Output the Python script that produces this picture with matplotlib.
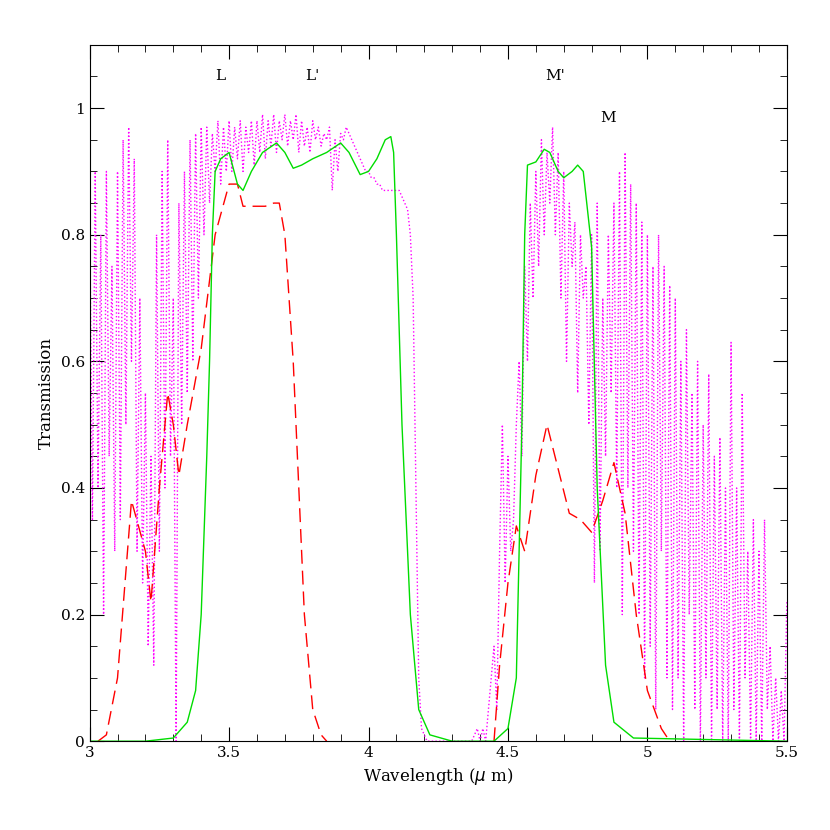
import numpy as np
import matplotlib.pyplot as plt
from matplotlib.ticker import MultipleLocator

# filter curve (green)
filt_x = [3.0, 3.2, 3.3, 3.35, 3.38, 3.4, 3.42, 3.43, 3.44, 3.45, 3.47, 3.5, 3.53, 3.55, 3.58, 3.62,
          3.67, 3.7, 3.73, 3.76, 3.8, 3.85, 3.9, 3.93, 3.97, 4.0, 4.03, 4.06, 4.08, 4.09, 4.1,
          4.12, 4.15, 4.18, 4.22, 4.3, 4.45, 4.5, 4.53, 4.55, 4.56, 4.57, 4.6, 4.63, 4.65,
          4.68, 4.7, 4.73, 4.75, 4.77, 4.8, 4.82, 4.85, 4.88, 4.95, 5.5]
filt_y = [0.0, 0.0, 0.005, 0.03, 0.08, 0.2, 0.45, 0.6, 0.8, 0.9, 0.92, 0.93, 0.88, 0.87, 0.9, 0.93,
          0.945, 0.93, 0.905, 0.91, 0.92, 0.93, 0.945, 0.93, 0.895, 0.9, 0.92, 0.95, 0.955, 0.93, 0.8,
          0.5, 0.2, 0.05, 0.01, 0.0, 0.0, 0.02, 0.1, 0.5, 0.8, 0.91, 0.915, 0.935, 0.93,
          0.9, 0.89, 0.9, 0.91, 0.9, 0.78, 0.4, 0.12, 0.03, 0.005, 0.0]

# red dashed curve
red_x = [3.03, 3.06, 3.1, 3.15, 3.2, 3.22, 3.25, 3.28, 3.3, 3.32, 3.35, 3.4, 3.45, 3.5, 3.53, 3.55,
         3.63, 3.66, 3.68, 3.7, 3.73, 3.77, 3.8, 3.83, 3.85, np.nan,
         4.45, 4.47, 4.5, 4.53, 4.56, 4.6, 4.64, 4.68, 4.72, 4.76, 4.8, 4.84, 4.88, 4.92, 4.96,
         5.0, 5.05, 5.08]
red_y = [0.0, 0.01, 0.1, 0.38, 0.3, 0.22, 0.4, 0.55, 0.5, 0.42, 0.5, 0.62, 0.8, 0.88, 0.88, 0.845,
         0.845, 0.85, 0.85, 0.8, 0.6, 0.2, 0.05, 0.01, 0.0, np.nan,
         0.0, 0.12, 0.25, 0.34, 0.3, 0.42, 0.5, 0.43, 0.36, 0.35, 0.33, 0.38, 0.44, 0.36, 0.2,
         0.08, 0.02, 0.0]

# atmospheric transmission (magenta dotted), sampled every 0.01 um from 3.00 to 5.50
atm_y = [.85, .35, .9, .4, .8, .2, .9, .45, .75, .3,
         .9, .35, .95, .5, .97, .6, .92, .3, .7, .25,
         .55, .15, .45, .12, .8, .3, .9, .4, .95, .45,
         .7, .0, .85, .5, .9, .55, .95, .6, .96, .7,
         .97, .8, .97, .85, .96, .9, .98, .88, .97, .9,
         .98, .9, .97, .92, .98, .9, .97, .93, .98, .91,
         .98, .93, .99, .92, .98, .94, .99, .93, .98, .95,
         .99, .94, .98, .95, .99, .93, .98, .94, .97, .93,
         .98, .95, .97, .94, .96, .95, .97, .87, .95, .9,
         .96, .95, .97, .96, .95, .94, .93, .92, .91, .9,
         .9, .89, .89, .88, .88, .87, .87, .87, .87, .87,
         .87, .87, .86, .85, .84, .8, .7, .4, .1, .02,
         .01, 0, 0, 0, 0, 0, 0, 0, 0, 0,
         0, 0, 0, 0, 0, 0, 0, 0, .01, .02,
         0, .02, 0, .05, .1, .15, .05, .3, .5, .25,
         .45, .3, .35, .5, .6, .45, .75, .6, .85, .7,
         .9, .75, .95, .8, .93, .85, .97, .8, .93, .7,
         .9, .6, .85, .75, .82, .55, .8, .7, .75, .5,
         .8, .25, .85, .3, .7, .45, .8, .55, .85, .4,
         .9, .2, .93, .4, .88, .3, .85, .2, .82, .1,
         .8, .15, .75, .05, .8, .3, .75, .1, .72, .05,
         .7, .1, .6, 0, .65, .2, .55, .05, .6, 0,
         .5, .1, .58, 0, .45, .05, .48, 0, .4, 0,
         .63, .05, .4, 0, .55, .1, .3, 0, .35, 0,
         .3, 0, .35, .05, .15, 0, .1, 0, .08, 0,
         .22]
atm_x = np.round(np.arange(len(atm_y)) * 0.01 + 3.0, 2)

band_names = ["L", "L'", "M'", "M"]
band_pos = [(3.47, 1.05), (3.8, 1.05), (4.67, 1.05), (4.86, 0.985)]

plt.rcParams['font.family'] = 'DejaVu Serif'
fig = plt.figure(figsize=(8.3, 8.3), dpi=100)
ax = fig.add_axes([0.108, 0.107, 0.84, 0.839])

ax.plot(atm_x, atm_y, color='magenta', ls=':', lw=1)
ax.plot(red_x, red_y, color='red', ls=(0, (10, 5)), lw=1)
ax.plot(filt_x, filt_y, color='#00dd00', lw=1)

for name, (x, y) in zip(band_names, band_pos):
    ax.text(x, y, name, ha='center', va='center', fontsize=11)

ax.set_xlim(3, 5.5)
ax.set_ylim(0, 1.1)
ax.xaxis.set_minor_locator(MultipleLocator(0.1))
ax.yaxis.set_minor_locator(MultipleLocator(0.05))
ax.tick_params(which='both', direction='in', top=True, right=True, labelsize=11)
ax.tick_params(which='major', length=10)
ax.tick_params(which='minor', length=5)
ax.set_xticks([3, 3.5, 4, 4.5, 5, 5.5], ['3', '3.5', '4', '4.5', '5', '5.5'])
ax.set_yticks([0, 0.2, 0.4, 0.6, 0.8, 1.0], ['0', '0.2', '0.4', '0.6', '0.8', '1'])
ax.set_xlabel(r'Wavelength ($\mu$ m)', fontsize=12)
ax.set_ylabel('Transmission', fontsize=12)

fig.savefig('out.png')
